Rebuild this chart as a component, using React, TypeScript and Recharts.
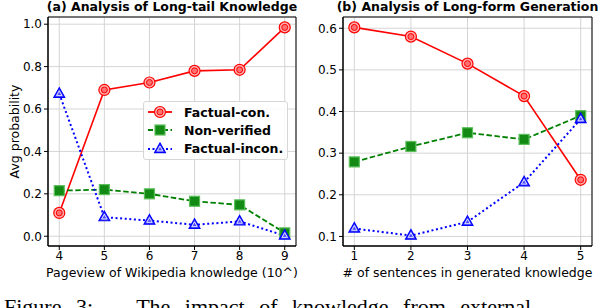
import React from 'react';
import {
  LineChart,
  Line,
  XAxis,
  YAxis,
  CartesianGrid,
  ReferenceArea,
  Legend,
  Label,
} from 'recharts';

// (a) long-tail knowledge, pageview 10^x
const pageviewBins = [4, 5, 6, 7, 8, 9];
const longTailFactualCon = [0.11, 0.69, 0.725, 0.78, 0.785, 0.985];
const longTailNonVerified = [0.215, 0.22, 0.2, 0.165, 0.148, 0.016];
const longTailFactualIncon = [0.672, 0.09, 0.074, 0.054, 0.07, 0.003];
const longTailTicks = [0, 0.2, 0.4, 0.6, 0.8, 1.0];

// (b) long-form generation, # of sentences
const sentenceCounts = [1, 2, 3, 4, 5];
const longFormFactualCon = [0.602, 0.58, 0.515, 0.437, 0.236];
const longFormNonVerified = [0.279, 0.316, 0.349, 0.333, 0.39];
const longFormFactualIncon = [0.119, 0.102, 0.135, 0.23, 0.382];
const longFormTicks = [0.1, 0.2, 0.3, 0.4, 0.5, 0.6];

const FONT = '"DejaVu Sans", sans-serif';
const RED = '#ff0000';
const GREEN = '#008000';
const BLUE = '#0000ff';

const CircleDot = (props: any) => {
  const { cx, cy, index } = props;
  if (cx == null || cy == null) return <g key={index} />;
  return (
    <g key={index}>
      <circle cx={cx} cy={cy} r={5.5} fill="#ffb0b0" stroke={RED} strokeWidth={1.2} />
      <circle cx={cx} cy={cy} r={3} fill="#ff7070" stroke={RED} strokeWidth={1} />
    </g>
  );
};

const SquareDot = (props: any) => {
  const { cx, cy, index } = props;
  if (cx == null || cy == null) return <g key={index} />;
  return (
    <rect key={index} x={cx - 5} y={cy - 5} width={10} height={10} fill="#138a13" stroke="#5cbf5c" strokeWidth={1.2} />
  );
};

const TriangleDot = (props: any) => {
  const { cx, cy, index } = props;
  if (cx == null || cy == null) return <g key={index} />;
  const r = 6;
  const pts = `${cx},${cy - r} ${cx - r * 0.9},${cy + r * 0.6} ${cx + r * 0.9},${cy + r * 0.6}`;
  const r2 = 3;
  const pts2 = `${cx},${cy - r2} ${cx - r2 * 0.9},${cy + r2 * 0.6} ${cx + r2 * 0.9},${cy + r2 * 0.6}`;
  return (
    <g key={index}>
      <polygon points={pts} fill="#4d4dff" stroke={BLUE} strokeWidth={1.2} />
      <polygon points={pts2} fill="none" stroke="#ffffff" strokeWidth={0.8} />
    </g>
  );
};

const legendItems = [
  { label: 'Factual-con.', color: RED, dash: undefined, Dot: CircleDot },
  { label: 'Non-verified', color: GREEN, dash: '5 2.5', Dot: SquareDot },
  { label: 'Factual-incon.', color: BLUE, dash: '2 2.5', Dot: TriangleDot },
];

const renderLegend = () => (
  <div
    style={{
      width: 145,
      height: 59,
      border: '1px solid #d6d6d6',
      borderRadius: 3,
      background: 'rgba(255,255,255,0.85)',
      boxSizing: 'border-box',
      padding: '1px 0 0 3px',
    }}
  >
    {legendItems.map((it) => (
      <div key={it.label} style={{ display: 'flex', alignItems: 'center', height: 18.3 }}>
        <svg width={28} height={14} style={{ flex: 'none' }}>
          <line x1={1} y1={7} x2={25} y2={7} stroke={it.color} strokeWidth={1.8} strokeDasharray={it.dash} />
          {it.Dot({ cx: 13, cy: 7, index: 0 })}
        </svg>
        <span
          style={{
            fontFamily: FONT,
            fontWeight: 'bold',
            fontSize: 12.5,
            marginLeft: 9,
            color: '#000',
            whiteSpace: 'nowrap',
          }}
        >
          {it.label}
        </span>
      </div>
    ))}
  </div>
);

interface PanelProps {
  left: number;
  width: number;
  yAxisWidth: number;
  marginRight: number;
  xs: number[];
  con: number[];
  nonv: number[];
  incon: number[];
  xDomain: [number, number];
  yDomain: [number, number];
  yTicks: number[];
  title: string;
  xLabel: string;
  yLabel?: string;
  showLegend?: boolean;
}

const Panel: React.FC<PanelProps> = (p) => {
  const data = p.xs.map((x, i) => ({ x, con: p.con[i], nonv: p.nonv[i], incon: p.incon[i] }));
  const tickStyle = { fontFamily: FONT, fontSize: 12, fill: '#000' };
  const plotLeft = p.left + p.yAxisWidth;
  const plotW = p.width - p.yAxisWidth - p.marginRight;
  return (
    <>
      <div
        style={{
          position: 'absolute',
          left: plotLeft - 40,
          width: plotW + 80,
          top: 0,
          textAlign: 'center',
          fontFamily: FONT,
          fontWeight: 'bold',
          fontSize: 12.5,
          lineHeight: '13px',
          whiteSpace: 'nowrap',
        }}
      >
        {p.title}
      </div>
      <div style={{ position: 'absolute', left: p.left, top: 0 }}>
        <LineChart
          width={p.width}
          height={282}
          data={data}
          margin={{ top: 17, right: p.marginRight, left: 0, bottom: 0 }}
        >
          <CartesianGrid stroke="#d0d0d0" strokeWidth={0.9} />
          <XAxis
            type="number"
            dataKey="x"
            domain={p.xDomain}
            ticks={p.xs}
            allowDataOverflow
            height={36}
            tick={tickStyle}
            tickSize={4}
            tickMargin={1}
            axisLine={{ stroke: '#000' }}
            tickLine={{ stroke: '#000' }}
          >
            <Label
              value={p.xLabel}
              position="insideBottom"
              offset={5}
              style={{ fontFamily: FONT, fontSize: 12.5, fill: '#000' }}
            />
          </XAxis>
          <YAxis
            type="number"
            domain={p.yDomain}
            ticks={p.yTicks}
            allowDataOverflow
            width={p.yAxisWidth}
            tick={tickStyle}
            tickSize={4}
            tickMargin={2}
            tickFormatter={(v: number) => v.toFixed(1)}
            axisLine={{ stroke: '#000' }}
            tickLine={{ stroke: '#000' }}
          >
            {p.yLabel && (
              <Label
                value={p.yLabel}
                angle={-90}
                position="center"
                dx={-9}
                style={{ fontFamily: FONT, fontSize: 12.5, fill: '#000', textAnchor: 'middle' }}
              />
            )}
          </YAxis>
          <ReferenceArea
            x1={p.xDomain[0]}
            x2={p.xDomain[1]}
            y1={p.yDomain[0]}
            y2={p.yDomain[1]}
            fill="none"
            fillOpacity={0}
            stroke="#000"
            strokeWidth={1}
          />
          <Line
            dataKey="con"
            stroke={RED}
            strokeWidth={1.6}
            dot={CircleDot}
            activeDot={false}
            isAnimationActive={false}
          />
          <Line
            dataKey="nonv"
            stroke={GREEN}
            strokeWidth={1.8}
            strokeDasharray="5.5 2.5"
            dot={SquareDot}
            activeDot={false}
            isAnimationActive={false}
          />
          <Line
            dataKey="incon"
            stroke={BLUE}
            strokeWidth={2}
            strokeDasharray="2 2.6"
            dot={TriangleDot}
            activeDot={false}
            isAnimationActive={false}
          />
          {p.showLegend && (
            <Legend
              layout="vertical"
              align="center"
              verticalAlign="middle"
              content={renderLegend}
              wrapperStyle={{ left: 143, top: 101, width: 145, height: 59 }}
            />
          )}
        </LineChart>
      </div>
    </>
  );
};

export default function App() {
  return (
    <div style={{ position: 'absolute', left: 0, top: 0, width: 604, height: 308, overflow: 'hidden', background: '#fff' }}>
      <Panel
        left={0}
        width={302}
        yAxisWidth={48}
        marginRight={6}
        xs={pageviewBins}
        con={longTailFactualCon}
        nonv={longTailNonVerified}
        incon={longTailFactualIncon}
        xDomain={[3.75, 9.25]}
        yDomain={[-0.046, 1.034]}
        yTicks={longTailTicks}
        title="(a) Analysis of Long-tail Knowledge"
        xLabel="Pageview of Wikipedia knowledge (10^)"
        yLabel="Avg probability"
        showLegend
      />
      <Panel
        left={302}
        width={302}
        yAxisWidth={41}
        marginRight={12}
        xs={sentenceCounts}
        con={longFormFactualCon}
        nonv={longFormNonVerified}
        incon={longFormFactualIncon}
        xDomain={[0.8, 5.2]}
        yDomain={[0.077, 0.627]}
        yTicks={longFormTicks}
        title="(b) Analysis of Long-form Generation"
        xLabel="# of sentences in generated knowledge"
      />
      <div
        style={{
          position: 'absolute',
          left: 4,
          top: 294,
          fontFamily: '"Liberation Serif", serif',
          fontSize: 22,
          lineHeight: '26px',
          whiteSpace: 'nowrap',
          wordSpacing: 9,
        }}
      >
        Figure 3:&nbsp;&nbsp; The impact of knowledge from external
      </div>
    </div>
  );
}
